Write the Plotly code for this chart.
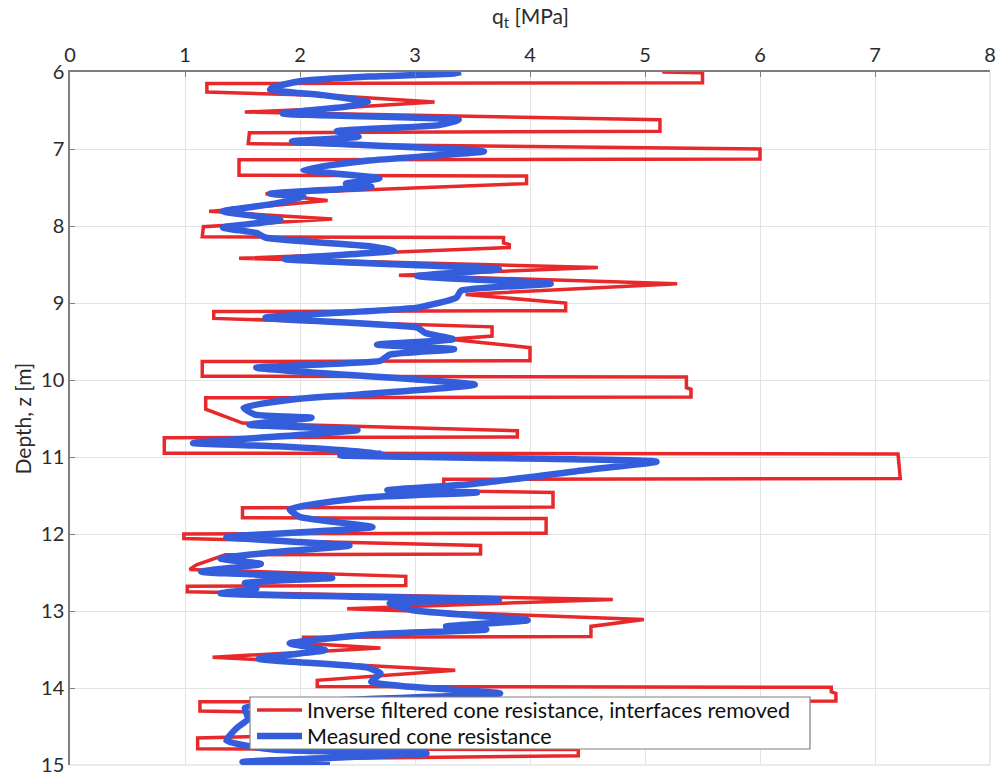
import plotly.graph_objects as go

# Inverse filtered cone resistance (red): depth [m], qt [MPa]
red_z = [6.00, 6.01, 6.14, 6.15, 6.26, 6.31, 6.39, 6.47, 6.52, 6.62, 6.77, 6.79, 6.93, 7.00, 7.13, 7.14,
         7.34, 7.35, 7.45, 7.58, 7.67, 7.81, 7.91, 8.01, 8.14, 8.15, 8.22, 8.24, 8.28, 8.42, 8.54, 8.64,
         8.75, 8.89, 9.00, 9.10, 9.11, 9.20, 9.31, 9.43, 9.47, 9.58, 9.75, 9.76, 9.95, 9.96, 10.10, 10.12,
         10.22, 10.23, 10.38, 10.45, 10.56, 10.66, 10.74, 10.75, 10.95, 10.96, 11.28, 11.29, 11.44, 11.46,
         11.65, 11.66, 11.79, 11.80, 11.99, 12.00, 12.06, 12.15, 12.26, 12.27, 12.40, 12.46, 12.55, 12.67,
         12.68, 12.75, 12.85, 12.97, 13.11, 13.20, 13.33, 13.34, 13.42, 13.48, 13.60, 13.77, 13.90, 13.98,
         13.99, 14.05, 14.07, 14.17, 14.18, 14.30, 14.33, 14.60, 14.65, 14.79, 14.80, 14.88, 14.92, 15.00]
red_q = [5.15, 5.50, 5.50, 1.19, 1.19, 2.30, 3.17, 2.30, 1.52, 5.13, 5.13, 1.56, 1.55, 6.00, 6.00, 1.47,
         1.47, 3.97, 3.97, 1.70, 2.24, 1.21, 2.28, 1.16, 1.15, 3.77, 3.77, 3.82, 3.82, 1.47, 4.59, 2.86,
         5.28, 3.44, 4.31, 4.31, 1.25, 1.25, 3.67, 3.67, 3.30, 4.00, 4.00, 1.15, 1.15, 5.36, 5.36, 5.40,
         5.40, 1.18, 1.18, 1.30, 1.50, 3.89, 3.89, 0.82, 0.82, 7.20, 7.22, 3.25, 3.25, 4.20,
         4.20, 1.50, 1.50, 4.14, 4.14, 0.99, 0.99, 3.57, 3.57, 1.35, 1.10, 1.04, 2.92, 2.92,
         1.02, 1.02, 4.72, 2.41, 4.99, 4.53, 4.53, 2.03, 2.03, 2.70, 1.24, 3.35, 2.15, 2.15,
         6.62, 6.62, 6.66, 6.66, 1.13, 1.13, 2.30, 2.30, 1.11, 1.11, 4.42, 4.42, 2.00, 1.80]

# Measured cone resistance (blue)
blue_z = [6.00, 6.02, 6.06, 6.12, 6.20, 6.23, 6.30, 6.39, 6.45, 6.54, 6.62, 6.69, 6.77, 6.84, 6.90, 7.03,
          7.15, 7.27, 7.38, 7.45, 7.49, 7.58, 7.62, 7.71, 7.81, 7.92, 8.02, 8.09, 8.15, 8.26, 8.32, 8.43,
          8.56, 8.65, 8.75, 8.84, 8.93, 9.06, 9.19, 9.32, 9.39, 9.47, 9.54, 9.60, 9.67, 9.75, 9.84, 10.06,
          10.19, 10.25, 10.36, 10.45, 10.49, 10.58, 10.65, 10.82, 10.86, 10.95, 10.98, 11.06, 11.16, 11.35,
          11.43, 11.46, 11.53, 11.68, 11.78, 11.91, 12.04, 12.15, 12.23, 12.32, 12.39, 12.49, 12.57, 12.64,
          12.71, 12.77, 12.85, 12.90, 12.99, 13.12, 13.20, 13.24, 13.30, 13.42, 13.49, 13.51, 13.62, 13.73,
          13.81, 13.92, 14.07, 14.15, 14.26, 14.40, 14.52, 14.68, 14.80, 14.85, 14.96, 15.00]
blue_q = [3.40, 3.33, 2.60, 2.00, 1.76, 1.74, 2.20, 2.59, 2.40, 1.85, 3.38, 3.21, 2.32, 2.51, 1.93, 3.60,
          2.60, 2.03, 2.69, 2.40, 2.62, 1.74, 2.03, 1.78, 1.33, 1.83, 1.33, 1.62, 1.70, 2.59, 2.82, 1.87,
          3.73, 3.02, 4.18, 3.40, 3.36, 3.02, 1.70, 3.02, 3.09, 3.33, 2.67, 3.34, 2.78, 2.70, 1.62, 3.52,
          2.50, 1.95, 1.51, 1.61, 2.10, 1.56, 2.50, 1.07, 1.80, 2.72, 2.35, 5.10, 4.54, 3.50,
          2.76, 3.54, 2.55, 1.91, 2.00, 2.63, 1.36, 2.43, 1.81, 1.31, 1.66, 1.14, 2.28, 1.52,
          1.62, 1.31, 3.73, 2.78, 2.98, 3.98, 3.27, 3.62, 2.67, 1.91, 2.16, 2.22, 1.64, 2.57,
          2.70, 2.62, 3.74, 2.50, 1.52, 1.55, 1.45, 1.36, 1.77, 3.10, 1.50, 2.26]

x_ticks = [0, 1, 2, 3, 4, 5, 6, 7, 8]
y_ticks = [6, 7, 8, 9, 10, 11, 12, 13, 14, 15]

red_name = "Inverse filtered cone resistance, interfaces removed"
blue_name = "Measured cone resistance"
RED = "#e8292b"
BLUE = "#345ddb"

FONT = "Lato"
TXT = "#2b2b2b"

W, H = 999, 778
ML, MR, MT, MB = 70, 9, 72, 13
PH = H - MT - MB
PW = W - ML - MR


def px_x(p):
    return (p - ML) / PW


def px_y(p):
    return (MT + PH - p) / PH


ROW1, ROW2 = 710, 736

fig = go.Figure()
fig.add_trace(go.Scatter(x=red_q, y=red_z, mode="lines", name=red_name, showlegend=False,
                         line=dict(color=RED, width=3.5)))
fig.add_trace(go.Scatter(x=blue_q, y=blue_z, mode="lines", name=blue_name, showlegend=False,
                         line=dict(color=BLUE, width=6.5, shape="spline", smoothing=0.5)))

# legend box (drawn where the original legend sits)
shapes = [
    dict(type="line", xref="paper", yref="paper", x0=1, x1=1, y0=0, y1=1,
         line=dict(color="#e3e3e3", width=1.5), layer="below"),
    dict(type="line", xref="paper", yref="paper", x0=0, x1=1, y0=0, y1=0,
         line=dict(color="#e3e3e3", width=1.5), layer="below"),
    dict(type="rect", xref="paper", yref="paper", x0=px_x(250), x1=px_x(810), y0=px_y(749), y1=px_y(697),
         fillcolor="white", line=dict(color="#808080", width=1.2), layer="above"),
    dict(type="line", xref="paper", yref="paper", x0=px_x(257), x1=px_x(302), y0=px_y(ROW1), y1=px_y(ROW1),
         line=dict(color=RED, width=3.5), layer="above"),
    dict(type="line", xref="paper", yref="paper", x0=px_x(257), x1=px_x(302), y0=px_y(ROW2), y1=px_y(ROW2),
         line=dict(color=BLUE, width=6.5), layer="above"),
]

annotations = [
    dict(text="q<sub>t</sub> [MPa]", xref="paper", yref="paper", x=0.5, y=px_y(17),
         xanchor="center", yanchor="middle", showarrow=False,
         font=dict(size=21, family=FONT, color=TXT)),
    dict(text="Depth, z [m]", xref="paper", yref="paper", x=px_x(22), y=0.5,
         xanchor="center", yanchor="middle", showarrow=False, textangle=-90,
         font=dict(size=21, family=FONT, color=TXT)),
    dict(text=red_name, xref="paper", yref="paper", x=px_x(306), y=px_y(ROW1),
         xanchor="left", yanchor="middle", showarrow=False, borderpad=0,
         font=dict(size=21.5, family=FONT, color="#111111")),
    dict(text=blue_name, xref="paper", yref="paper", x=px_x(306), y=px_y(ROW2),
         xanchor="left", yanchor="middle", showarrow=False, borderpad=0,
         font=dict(size=21.5, family=FONT, color="#111111")),
]

fig.update_layout(
    width=W, height=H,
    margin=dict(l=ML, r=MR, t=MT, b=MB, autoexpand=False),
    paper_bgcolor="white", plot_bgcolor="white",
    font=dict(family=FONT, color=TXT, size=20),
    showlegend=False,
    xaxis=dict(side="top", range=[0, 8], tickvals=x_ticks, ticktext=[str(v) for v in x_ticks],
               showgrid=True, gridcolor="#e3e3e3", gridwidth=1,
               showline=True, linecolor="#7f7f7f", linewidth=1.5,
               ticks="inside", ticklen=5, tickcolor="#7f7f7f",
               zeroline=False, automargin=False,
               tickfont=dict(size=20, family=FONT, color=TXT)),
    yaxis=dict(range=[15, 6], tickvals=y_ticks, ticktext=[str(v) for v in y_ticks],
               showgrid=True, gridcolor="#e3e3e3", gridwidth=1,
               showline=True, linecolor="#7f7f7f", linewidth=1.5,
               ticks="inside", ticklen=5, tickcolor="#7f7f7f",
               zeroline=False, automargin=False,
               tickfont=dict(size=20, family=FONT, color=TXT)),
    shapes=shapes,
    annotations=annotations,
)

# remove the default 8px page margin so the figure fills the window exactly
fig.write_html("out.html", config={"displayModeBar": False},
               post_script="document.body.style.margin='0';")
